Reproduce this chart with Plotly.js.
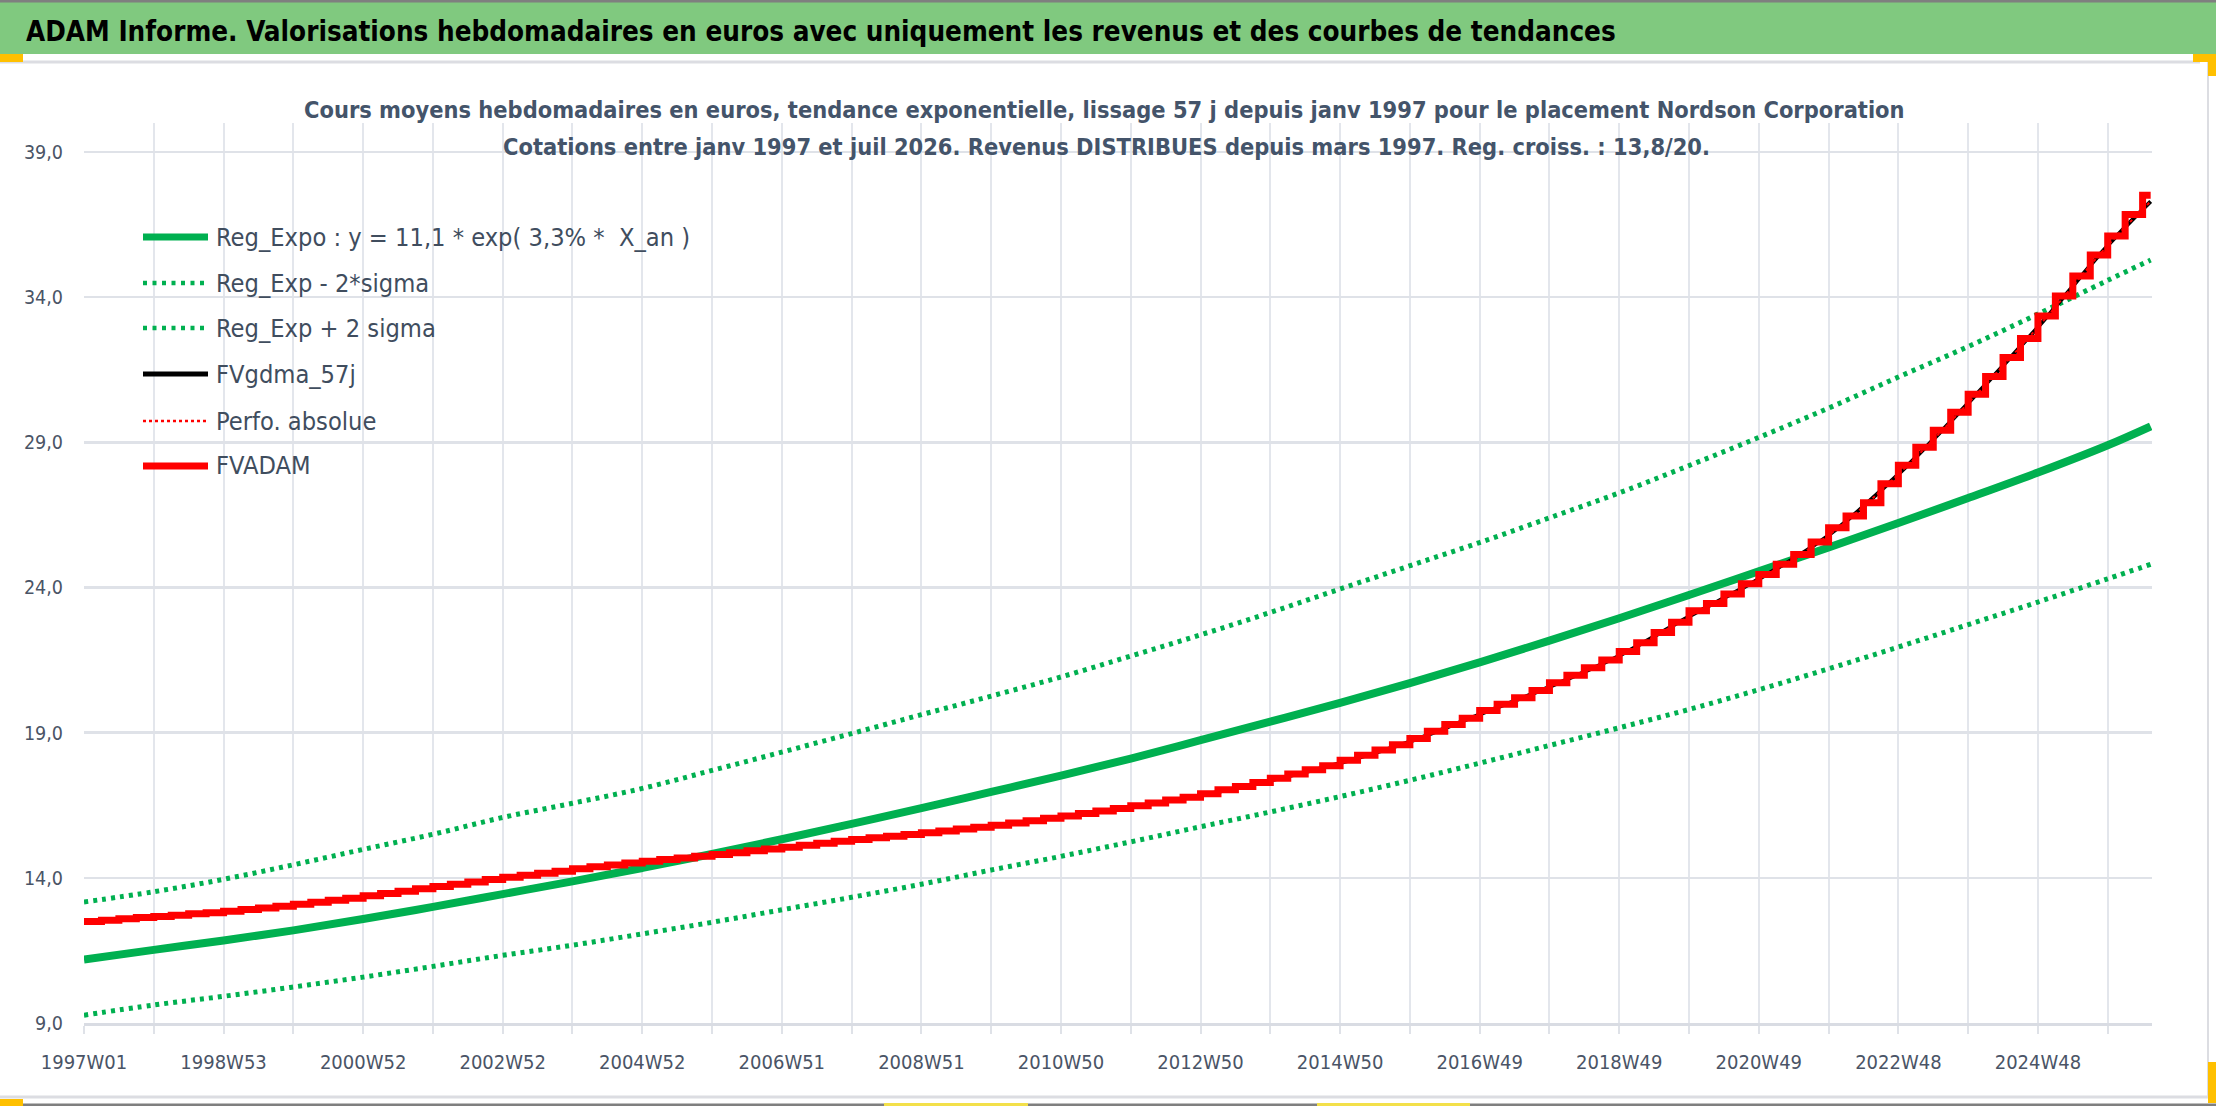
<!DOCTYPE html>
<html>
<head>
<meta charset="utf-8">
<script src="https://cdn.plot.ly/plotly-3.0.1.min.js"></script>
<style>
  html, body { margin: 0; padding: 0; background: #fff; }
  #chart { width: 2216px; height: 1106px; }
</style>
</head>
<body>
<div id="chart"></div>
<script>
// Week index (0 = 1997W01), one point per year on the gridlines, last = juil 2026
const yearWeeks = [0, 52, 104, 156, 208, 260, 312, 364, 416, 468, 520, 572, 624, 676, 728,
  780, 832, 884, 936, 988, 1040, 1092, 1144, 1196, 1248, 1300, 1352, 1404, 1456, 1508, 1540];

const tickLabels = ["1997W01", "1998W53", "2000W52", "2002W52", "2004W52", "2006W51", "2008W51",
  "2010W50", "2012W50", "2014W50", "2016W49", "2018W49", "2020W49", "2022W48", "2024W48"];

const regExpo = [11.19, 11.52, 11.84, 12.19, 12.58, 13.00, 13.44, 13.88, 14.34, 14.82, 15.33,
  15.86, 16.40, 16.96, 17.52, 18.11, 18.74, 19.38, 20.03, 20.71, 21.42, 22.17, 22.94, 23.74,
  24.56, 25.38, 26.22, 27.08, 27.96, 28.90, 29.55];

const regExpMinus = [9.27, 9.62, 9.92, 10.24, 10.58, 10.95, 11.33, 11.68, 12.07, 12.47, 12.90,
  13.33, 13.78, 14.27, 14.74, 15.24, 15.76, 16.27, 16.80, 17.36, 17.95, 18.56, 19.17, 19.80,
  20.48, 21.20, 21.95, 22.72, 23.50, 24.30, 24.80];

const regExpPlus = [13.17, 13.52, 13.95, 14.45, 14.98, 15.50, 16.08, 16.57, 17.08, 17.70, 18.33,
  18.97, 19.62, 20.26, 20.92, 21.64, 22.37, 23.14, 23.95, 24.75, 25.55, 26.40, 27.26, 28.20,
  29.17, 30.18, 31.25, 32.30, 33.42, 34.58, 35.28];

const fvGdma57 = [12.48, 12.65, 12.82, 13.05, 13.34, 13.66, 13.98, 14.27, 14.54, 14.77, 15.02,
  15.29, 15.52, 15.77, 16.09, 16.43, 16.84, 17.35, 17.95, 18.69, 19.63, 20.58, 21.65, 23.00,
  24.29, 25.80, 27.90, 30.35, 32.97, 35.78, 37.30];

// FVADAM, one value per quarter (13 weeks), dividends give the steps
const fvAdam = [
  12.50, 12.54, 12.59, 12.63, 12.67, 12.71, 12.76, 12.80, 12.85, 12.91, 12.96, 13.02,
  13.09, 13.16, 13.23, 13.30, 13.38, 13.46, 13.54, 13.62, 13.70, 13.78, 13.86, 13.94,
  14.02, 14.09, 14.16, 14.23, 14.31, 14.38, 14.44, 14.51, 14.57, 14.63, 14.68, 14.74,
  14.80, 14.86, 14.93, 14.99, 15.05, 15.12, 15.19, 15.26, 15.32, 15.38, 15.43, 15.49,
  15.55, 15.61, 15.68, 15.74, 15.81, 15.89, 15.97, 16.05, 16.13, 16.22, 16.30, 16.39,
  16.48, 16.58, 16.68, 16.78, 16.90, 17.03, 17.15, 17.28, 17.43, 17.58, 17.72, 17.86,
  18.05, 18.22, 18.40, 18.58, 18.80, 19.05, 19.28, 19.50, 19.76, 19.98, 20.20, 20.45,
  20.72, 20.98, 21.24, 21.50, 21.80, 22.10, 22.45, 22.80, 23.20, 23.45, 23.78, 24.13,
  24.45, 24.80, 25.14, 25.57, 26.06, 26.46, 26.92, 27.57, 28.21, 28.83, 29.42, 30.04,
  30.66, 31.27, 31.92, 32.58, 33.35, 34.04, 34.73, 35.45, 36.11, 36.85, 37.51];

const seriesNames = ["Reg_Expo : y = 11,1 * exp( 3,3% *\u00a0 X_an )", "Reg_Exp - 2*sigma",
  "Reg_Exp + 2 sigma", "FVgdma_57j", "Perfo. absolue", "FVADAM"];

const GREEN = "#00b050";
const RED = "#ff0000";
const NARROW = '"DejaVu Sans Condensed", "Liberation Sans Narrow", sans-serif';
const TEXT = "#44546a";

// plot area in page pixels, used to place the decorations
const PL = 84, PT = 123, PW = 2068, PH = 900;
const px = (x) => (x - PL) / PW;
const py = (y) => (PT + PH - y) / PH;

const quarterWeeks = fvAdam.map((v, i) => i * 13);
quarterWeeks.push(1540);
const fvAdamEnd = fvAdam.concat([fvAdam[fvAdam.length - 1]]);

const traces = [
  { x: yearWeeks, y: regExpMinus, name: seriesNames[1], mode: "lines",
    line: { color: GREEN, width: 5, dash: "4px,5px", shape: "spline" } },
  { x: yearWeeks, y: regExpPlus, name: seriesNames[2], mode: "lines",
    line: { color: GREEN, width: 5, dash: "4px,5px", shape: "spline" } },
  { x: yearWeeks, y: regExpo, name: seriesNames[0], mode: "lines",
    line: { color: GREEN, width: 8, shape: "spline" } },
  { x: yearWeeks, y: fvGdma57, name: seriesNames[3], mode: "lines",
    line: { color: "#000000", width: 4, shape: "spline" } },
  { x: yearWeeks, y: fvGdma57, name: seriesNames[4], mode: "lines",
    line: { color: RED, width: 2, dash: "dot", shape: "spline" } },
  { x: quarterWeeks, y: fvAdamEnd, name: seriesNames[5], mode: "lines",
    line: { color: RED, width: 7, shape: "hv" } },
];
traces.forEach((t) => { t.showlegend = false; t.hoverinfo = "skip"; });

// x ticks every 52 weeks, label every second one
const tickVals = [];
const tickText = [];
for (let k = 0; k * 52 <= 1508; k++) {
  tickVals.push(k * 52);
  tickText.push(k % 2 === 0 ? tickLabels[k / 2] : "");
}

// hand-made legend (long symbols like the Excel one)
const legendRows = [237, 283, 328, 374, 421, 466];
const legendStyles = [
  { color: GREEN, width: 7 },
  { color: GREEN, width: 4.5, dash: "4px,5.5px" },
  { color: GREEN, width: 4.5, dash: "4px,5.5px" },
  { color: "#000000", width: 5 },
  { color: RED, width: 2.5, dash: "3px,3px" },
  { color: RED, width: 7 },
];

const shapes = [
  // window frame and header band
  { type: "rect", xref: "paper", yref: "paper", x0: px(0), x1: px(2216), y0: py(54), y1: py(2),
    fillcolor: "#80c97f", line: { width: 0 }, layer: "below" },
  { type: "line", xref: "paper", yref: "paper", x0: px(0), x1: px(2216), y0: py(1), y1: py(1),
    line: { color: "#7f7f7f", width: 3 } },
  { type: "line", xref: "paper", yref: "paper", x0: px(0), x1: px(2200), y0: py(62), y1: py(62),
    line: { color: "#dcdde2", width: 3 } },
  { type: "line", xref: "paper", yref: "paper", x0: px(0), x1: px(2208), y0: py(1097), y1: py(1097),
    line: { color: "#dcdde2", width: 3 } },
  { type: "line", xref: "paper", yref: "paper", x0: px(2208), x1: px(2208), y0: py(62), y1: py(1097),
    line: { color: "#dcdde2", width: 2 } },
  { type: "line", xref: "paper", yref: "paper", x0: px(0), x1: px(2216), y0: py(1105), y1: py(1105),
    line: { color: "#7f7f7f", width: 3 } },
  { type: "rect", xref: "paper", yref: "paper", x0: px(0), x1: px(23), y0: py(62), y1: py(54),
    fillcolor: "#ffc000", line: { width: 0 } },
  { type: "rect", xref: "paper", yref: "paper", x0: px(2193), x1: px(2216), y0: py(62), y1: py(54),
    fillcolor: "#ffc000", line: { width: 0 } },
  { type: "rect", xref: "paper", yref: "paper", x0: px(2208), x1: px(2216), y0: py(76), y1: py(54),
    fillcolor: "#ffc000", line: { width: 0 } },
  { type: "rect", xref: "paper", yref: "paper", x0: px(2208), x1: px(2216), y0: py(1103), y1: py(1062),
    fillcolor: "#ffc000", line: { width: 0 } },
  { type: "rect", xref: "paper", yref: "paper", x0: px(0), x1: px(23), y0: py(1106), y1: py(1099),
    fillcolor: "#ffc000", line: { width: 0 } },
  { type: "rect", xref: "paper", yref: "paper", x0: px(884), x1: px(1028), y0: py(1106), y1: py(1103),
    fillcolor: "#f3e04a", line: { width: 0 } },
  { type: "rect", xref: "paper", yref: "paper", x0: px(1317), x1: px(1470), y0: py(1106), y1: py(1103),
    fillcolor: "#f3e04a", line: { width: 0 } },
];

const annotations = [
  { text: "ADAM Informe. Valorisations hebdomadaires en euros avec uniquement les revenus et des courbes de tendances",
    xref: "paper", yref: "paper", x: px(24), y: py(31), xanchor: "left", yanchor: "middle",
    showarrow: false, font: { family: NARROW, size: 27.6, color: "#000", weight: "bold" } },
  { text: "Cours moyens hebdomadaires en euros, tendance exponentielle, lissage 57 j depuis janv 1997 pour le placement Nordson Corporation",
    xref: "paper", yref: "paper", x: px(1104), y: py(110), xanchor: "center", yanchor: "middle",
    showarrow: false, font: { family: NARROW, size: 23.4, color: TEXT, weight: "bold" } },
  { text: "Cotations entre janv 1997 et juil 2026. Revenus DISTRIBUES depuis mars 1997. Reg. croiss. : 13,8/20.",
    xref: "paper", yref: "paper", x: px(1106), y: py(147), xanchor: "center", yanchor: "middle",
    showarrow: false, font: { family: NARROW, size: 23.4, color: TEXT, weight: "bold" } },
];

legendRows.forEach((y, i) => {
  shapes.push({ type: "line", xref: "paper", yref: "paper", x0: px(143), x1: px(208),
    y0: py(y), y1: py(y), line: legendStyles[i] });
  annotations.push({ text: seriesNames[i], xref: "paper", yref: "paper", x: px(214), y: py(y),
    xanchor: "left", yanchor: "middle", showarrow: false,
    font: { family: NARROW, size: 25.2, color: "#404d5e" } });
});

const layout = {
  width: 2216,
  height: 1106,
  margin: { l: PL, r: 2216 - PL - PW, t: PT, b: 1106 - PT - PH, autoexpand: false },
  paper_bgcolor: "#ffffff",
  plot_bgcolor: "#ffffff",
  separators: ", ",
  showlegend: false,
  xaxis: {
    type: "linear",
    range: [0, 1541],
    tickmode: "array",
    tickvals: tickVals,
    ticktext: tickText,
    ticks: "outside",
    ticklen: 8,
    tickwidth: 2,
    tickcolor: "#dfe2e8",
    showgrid: true,
    gridcolor: "#e3e6ec",
    gridwidth: 2,
    showline: true,
    linecolor: "#d9dce3",
    linewidth: 3,
    zeroline: false,
    ticklabelstandoff: 11,
    tickfont: { family: NARROW, size: 20, color: "#4a5466" },
  },
  yaxis: {
    range: [9, 40],
    tick0: 9,
    dtick: 5,
    tickformat: ".1f",
    ticks: "",
    showgrid: true,
    gridcolor: "#dfe2e8",
    gridwidth: 2.5,
    zeroline: false,
    showline: false,
    ticklabelstandoff: 20,
    tickfont: { family: NARROW, size: 19.5, color: "#4a5466" },
  },
  shapes: shapes,
  annotations: annotations,
};

Plotly.newPlot("chart", traces, layout, { displayModeBar: false, staticPlot: true });
</script>
</body>
</html>
